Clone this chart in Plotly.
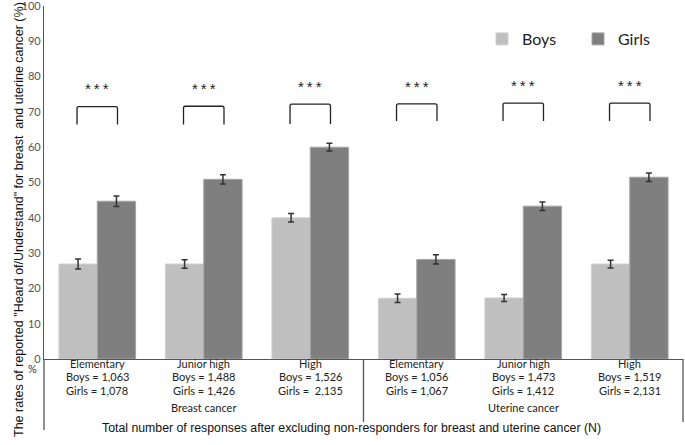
import plotly.graph_objects as go

groups = ["Elementary", "Junior high", "High", "Elementary", "Junior high", "High"]
boys_n = ["1,063", "1,488", "1,526", "1,056", "1,473", "1,519"]
girls_n = ["1,078", "1,426", " 2,135", "1,067", "1,412", "2,131"]
cancers = ["Breast cancer", "Uterine cancer"]
boys = [26.9, 26.9, 40.0, 17.2, 17.3, 26.9]
girls = [44.7, 50.9, 60.0, 28.2, 43.3, 51.5]
boys_err = [1.4, 1.2, 1.2, 1.2, 1.0, 1.1]
girls_err = [1.5, 1.3, 1.1, 1.3, 1.2, 1.2]
bracket_top = [71.5, 71.6, 72.2, 72.3, 72.5, 72.5]
bracket_bottom = [66.4, 66.4, 66.6, 67.4, 67.4, 67.4]
sig = ["***"] * 6
y_ticks = [0, 10, 20, 30, 40, 50, 60, 70, 80, 90, 100]

x = list(range(len(groups)))
W, H = 685, 445
L, R, T, B = 44, 2, 6, 86
pw, ph = W - L - R, H - T - B

def py(px):
    return (H - B - px) / ph

fig = go.Figure()
fig.add_trace(go.Bar(
    x=x, y=boys, name="Boys", marker=dict(color="#bfbfbf", line=dict(color="#d0d0d0", width=1)),
    error_y=dict(type="data", array=boys_err, color="#333333", thickness=1.5, width=3),
))
fig.add_trace(go.Bar(
    x=x, y=girls, name="Girls", marker=dict(color="#7f7f7f", line=dict(color="#a6a6a6", width=1)),
    error_y=dict(type="data", array=girls_err, color="#333333", thickness=1.5, width=3),
))

shapes = []
annotations = []
half = 0.19
txt_font = dict(family="Lato, sans-serif", size=11, color="#222222")
for i in x:
    x0, x1 = i - half, i + half
    yt, yb = bracket_top[i], bracket_bottom[i]
    r = 0.6
    dx = 0.015
    path = (f"M {x0},{yb} L {x0},{yt - r} Q {x0},{yt} {x0 + dx},{yt} "
            f"L {x1 - dx},{yt} Q {x1},{yt} {x1},{yt - r} L {x1},{yb}")
    shapes.append(dict(type="path", path=path, xref="x", yref="y",
                       line=dict(color="#222222", width=1.3)))
    annotations.append(dict(x=i, y=yt + 5.0, xref="x", yref="y",
                            text="\u2009".join(sig[i]), showarrow=False,
                            font=dict(family="Liberation Sans, Arial, sans-serif", size=15, color="#222222")))
    annotations.append(dict(x=i, y=py(372), xref="x", yref="paper", text=groups[i], showarrow=False,
                            font=txt_font))
    annotations.append(dict(x=i, y=py(385), xref="x", yref="paper", text="Boys = " + boys_n[i], showarrow=False,
                            font=txt_font))
    annotations.append(dict(x=i, y=py(399), xref="x", yref="paper",
                            text="Girls = " + girls_n[i].replace(" ", "\u00a0"), showarrow=False,
                            font=txt_font))

for k, c in enumerate(cancers):
    annotations.append(dict(x=1 + 3 * k, y=py(416), xref="x", yref="paper", text=c, showarrow=False,
                            font=txt_font))

annotations.append(dict(x=(26 - L) / pw, y=py(377), xref="paper", yref="paper", text="%", showarrow=False,
                        font=dict(family="Lato, sans-serif", size=11, color="#333333")))
annotations.append(dict(x=(10 - L) / pw, y=py(220), xref="paper", yref="paper", textangle=-90,
                        text="The rates of reported \"Heard of/Understand\" for breast&nbsp; and uterine cancer (%)",
                        showarrow=False, font=dict(family="Liberation Sans, Arial, sans-serif", size=12.5, color="#111111")))
annotations.append(dict(x=(351 - L) / pw, y=py(437), xref="paper", yref="paper",
                        text="Total number of responses after excluding non-responders for breast and uterine cancer (N)",
                        showarrow=False, font=dict(family="Liberation Sans, Arial, sans-serif", size=12.3, color="#111111")))

shapes.append(dict(type="line", xref="paper", yref="paper", x0=0, x1=0, y0=0, y1=py(430),
                   line=dict(color="#555555", width=1.3)))
shapes.append(dict(type="line", xref="x", yref="paper", x0=2.5, x1=2.5, y0=0, y1=py(422),
                   line=dict(color="#555555", width=1.3)))
shapes.append(dict(type="line", xref="paper", yref="paper", x0=1, x1=1, y0=0, y1=py(422),
                   line=dict(color="#555555", width=1.3)))

fig.update_layout(
    width=W, height=H,
    margin=dict(l=L, r=R, t=T, b=B, autoexpand=False),
    paper_bgcolor="white", plot_bgcolor="white",
    barmode="group", bargap=0.28, bargroupgap=0,
    showlegend=True,
    legend=dict(orientation="h", x=(482 - L) / pw, y=py(39), xanchor="left", yanchor="middle",
                font=dict(family="Lato, sans-serif", size=16, color="#222222"),
                itemwidth=30, bgcolor="rgba(0,0,0,0)", entrywidth=51),
    shapes=shapes, annotations=annotations,
    xaxis=dict(range=[-0.5, 5.5], showticklabels=False, showgrid=False, zeroline=False, automargin=False,
               showline=True, linecolor="#555555", linewidth=1.3, ticks=""),
    yaxis=dict(range=[0, 100], tickvals=y_ticks, showgrid=False, zeroline=False, automargin=False,
               showline=True, linecolor="#555555", linewidth=1.3, ticks="", ticklabeloverflow="allow",
               tickfont=dict(family="Lato, sans-serif", size=11, color="#555555")),
)

fig.write_html("out.html", config={"displayModeBar": False},
               post_script="document.body.style.margin='0';document.body.style.overflow='hidden';")
